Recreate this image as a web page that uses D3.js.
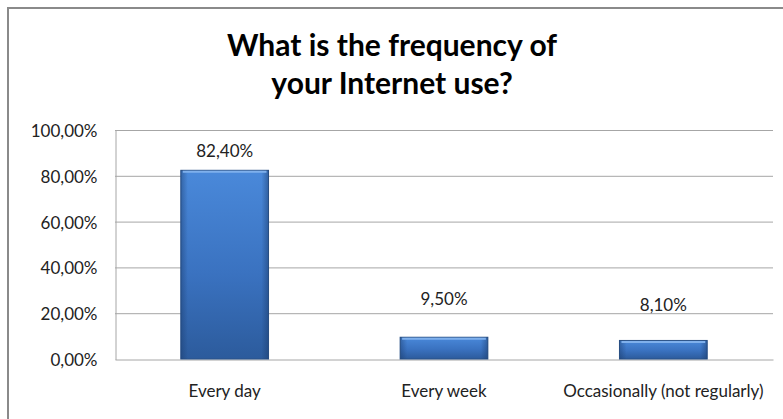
<!DOCTYPE html>
<html>
<head>
<meta charset="utf-8">
<script src="https://cdn.jsdelivr.net/npm/d3@7/dist/d3.min.js"></script>
<style>
  html, body { margin: 0; padding: 0; background: #fff; }
  svg { display: block; }
</style>
</head>
<body>
<script>
const categories = ["Every day", "Every week", "Occasionally (not regularly)"];
const values = [82.4, 9.5, 8.1];
const valueLabels = ["82,40%", "9,50%", "8,10%"];
const tickValues = [0, 20, 40, 60, 80, 100];
const tickLabels = ["0,00%", "20,00%", "40,00%", "60,00%", "80,00%", "100,00%"];
const titleLines = ["What is the frequency of", "your Internet use?"];
const labelGap = [13, 32, 29];

const W = 783, H = 419;
const margin = { left: 115, right: 10, top: 130, bottom: 60 };
const plotW = 773 - 115, plotH = 359 - 130;

const svg = d3.select("body").append("svg").attr("width", W).attr("height", H);

const defs = svg.append("defs");
const g1 = defs.append("linearGradient").attr("id", "barV").attr("x1", 0).attr("y1", 0).attr("x2", 0).attr("y2", 1);
g1.append("stop").attr("offset", "0%").attr("stop-color", "#4a89da");
g1.append("stop").attr("offset", "55%").attr("stop-color", "#3a72c0");
g1.append("stop").attr("offset", "100%").attr("stop-color", "#2c5b9c");
const g2 = defs.append("linearGradient").attr("id", "barH").attr("x1", 0).attr("y1", 0).attr("x2", 1).attr("y2", 0);
g2.append("stop").attr("offset", "0%").attr("stop-color", "#1a3a6a").attr("stop-opacity", 0.45);
g2.append("stop").attr("offset", "8%").attr("stop-color", "#1a3a6a").attr("stop-opacity", 0.0);
g2.append("stop").attr("offset", "92%").attr("stop-color", "#1a3a6a").attr("stop-opacity", 0.0);
g2.append("stop").attr("offset", "100%").attr("stop-color", "#1a3a6a").attr("stop-opacity", 0.5);

// outer frame
svg.append("rect").attr("x", 8).attr("y", 8).attr("width", W + 10).attr("height", H + 10)
  .attr("fill", "none").attr("stroke", "#8a8a8a").attr("stroke-width", 2);

// title
svg.append("g").selectAll("text").data(titleLines).join("text")
  .attr("x", 392).attr("y", (d, i) => 56 + i * 38)
  .attr("text-anchor", "middle")
  .attr("font-family", "Lato, 'Open Sans', sans-serif")
  .attr("font-weight", "bold")
  .attr("font-size", 30)
  .attr("fill", "#000")
  .text(d => d);

const x = d3.scaleBand().domain(categories).range([margin.left, margin.left + plotW]).padding(0);
const y = d3.scaleLinear().domain([0, 100]).range([margin.top + plotH, margin.top]);

// gridlines
svg.append("g").selectAll("line").data(tickValues.filter(v => v > 0)).join("line")
  .attr("x1", margin.left).attr("x2", margin.left + plotW)
  .attr("y1", d => y(d) + 0.5).attr("y2", d => y(d) + 0.5)
  .attr("stroke", "#a6a6a6").attr("stroke-width", 1);

// y axis
const yAxis = d3.axisLeft(y).tickValues(tickValues).tickFormat((d, i) => tickLabels[i]).tickSize(0).tickPadding(18);
const ya = svg.append("g").attr("transform", `translate(${margin.left + 0.5},0.5)`).call(yAxis);
ya.select(".domain").attr("stroke", "#a6a6a6");
ya.selectAll("text").attr("font-family", "Lato, sans-serif").attr("font-size", 17).attr("fill", "#222").attr("dy", "0.35em");

// x axis
const xAxis = d3.axisBottom(x).tickSize(0).tickPadding(25);
const xa = svg.append("g").attr("transform", `translate(0,${margin.top + plotH + 0.5})`).call(xAxis);
xa.select(".domain").attr("stroke", "#a6a6a6");
xa.selectAll("text").attr("font-family", "Lato, sans-serif").attr("font-size", 17).attr("fill", "#222");

// bars
const bw = x.bandwidth() / 2.5;
const bars = svg.append("g").selectAll("g").data(values).join("g");
bars.append("rect")
  .attr("x", (d, i) => x(categories[i]) + (x.bandwidth() - bw) / 2)
  .attr("y", d => y(d))
  .attr("width", bw)
  .attr("height", d => y(0) - y(d))
  .attr("fill", "url(#barV)")
  .attr("stroke", "#2a5288").attr("stroke-width", 1);
bars.append("rect")
  .attr("x", (d, i) => x(categories[i]) + (x.bandwidth() - bw) / 2)
  .attr("y", d => y(d))
  .attr("width", bw)
  .attr("height", d => y(0) - y(d))
  .attr("fill", "url(#barH)");
bars.append("line")
  .attr("x1", (d, i) => x(categories[i]) + (x.bandwidth() - bw) / 2 + 2)
  .attr("x2", (d, i) => x(categories[i]) + (x.bandwidth() + bw) / 2 - 2)
  .attr("y1", d => y(d) + 1.5).attr("y2", d => y(d) + 1.5)
  .attr("stroke", "#7fb0ec").attr("stroke-width", 2);

// value labels
svg.append("g").selectAll("text").data(values).join("text")
  .attr("x", (d, i) => x(categories[i]) + x.bandwidth() / 2)
  .attr("y", (d, i) => y(d) - labelGap[i])
  .attr("text-anchor", "middle")
  .attr("font-family", "Lato, sans-serif").attr("font-size", 17).attr("fill", "#222")
  .text((d, i) => valueLabels[i]);
</script>
</body>
</html>
